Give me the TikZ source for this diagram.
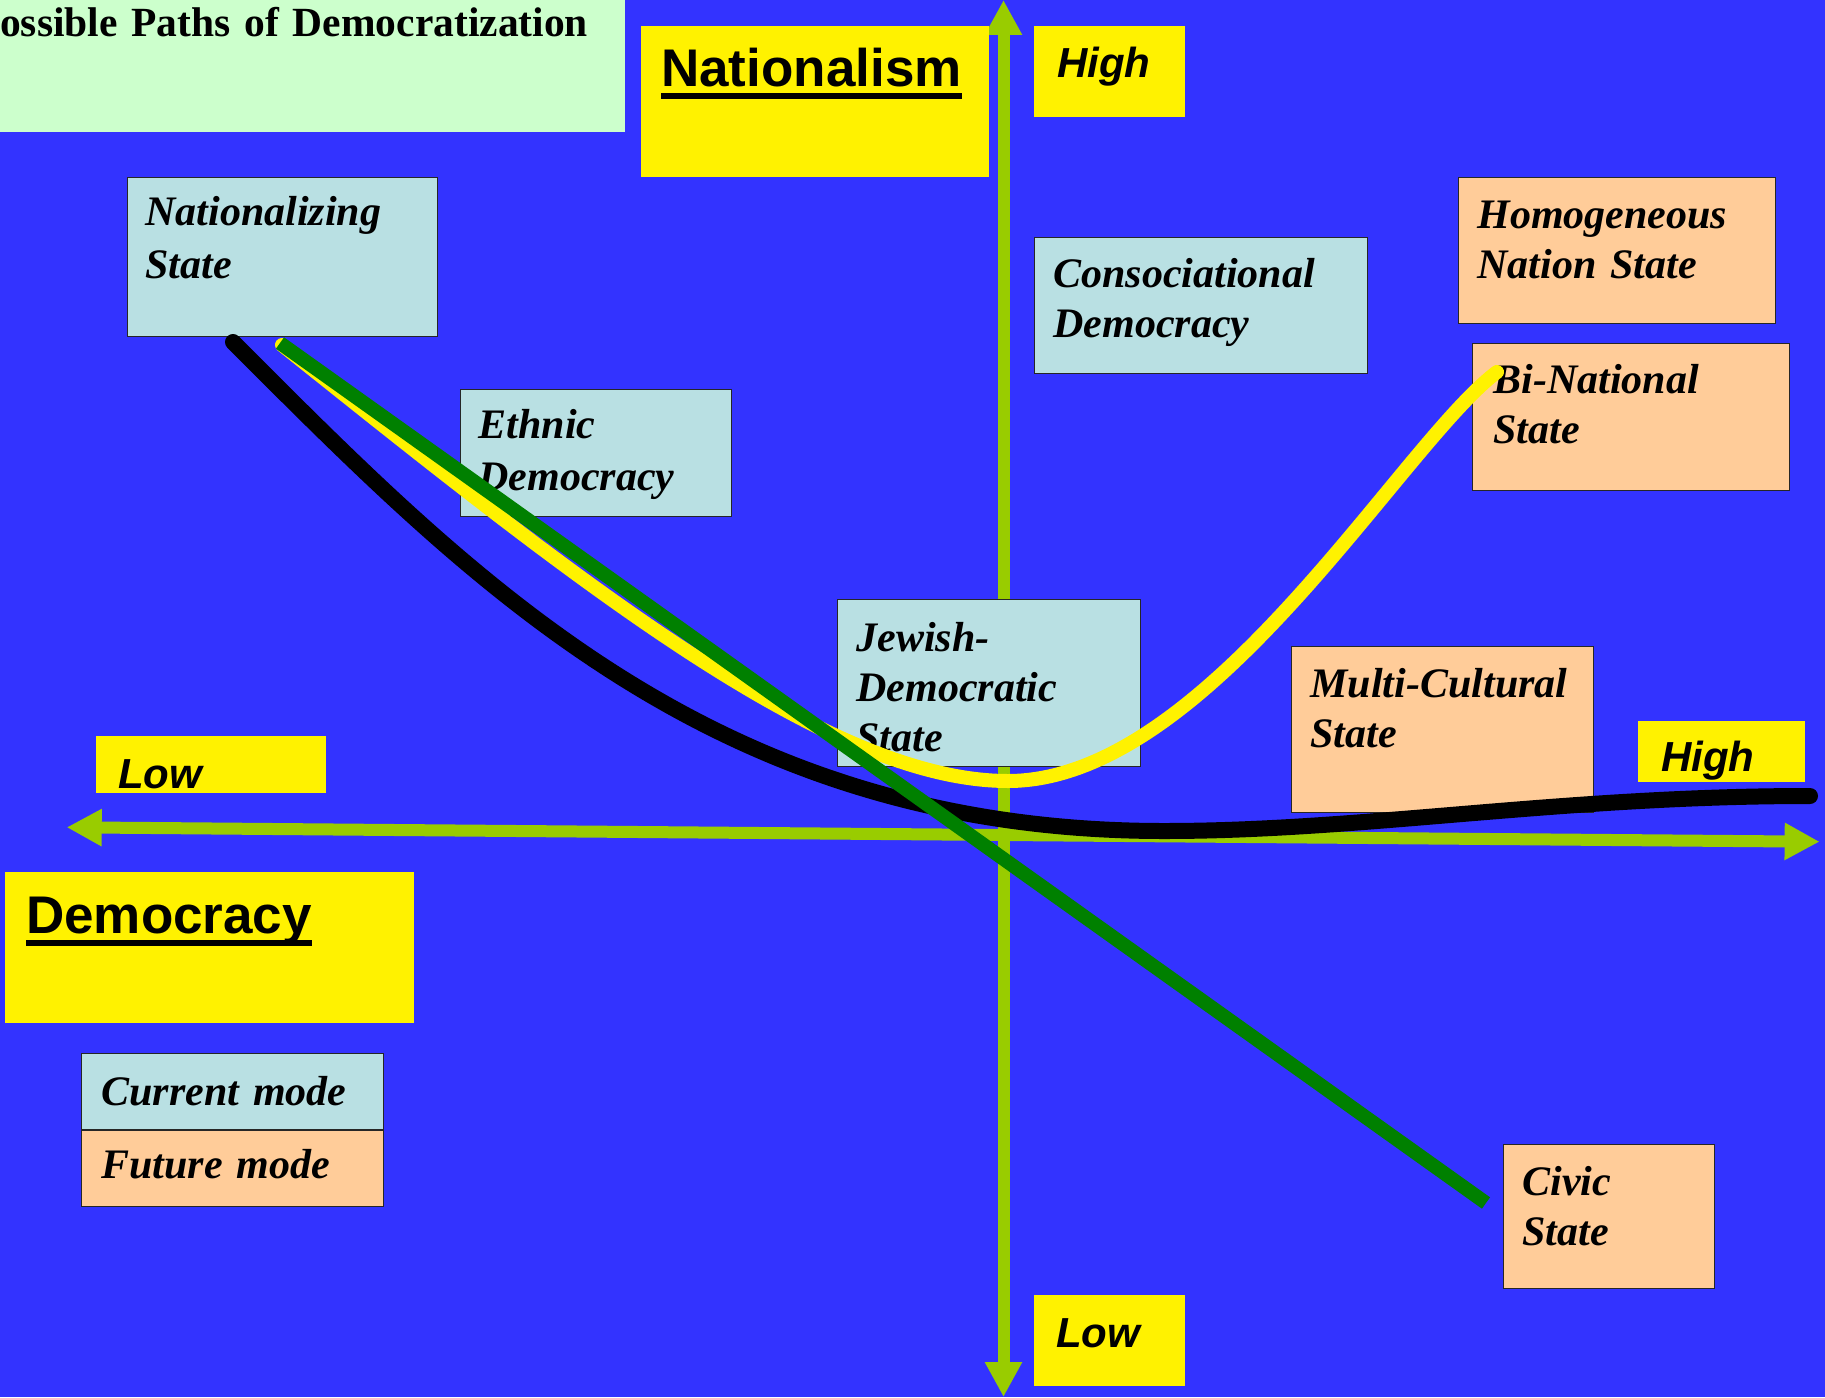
\documentclass[tikz,border=0pt]{standalone}
\usepackage{fontspec}
\setmainfont{Liberation Serif}
\setsansfont{Liberation Sans}
\usetikzlibrary{positioning}
\usetikzlibrary{arrows.meta}
\definecolor{bgblue}{HTML}{3333FF}
\definecolor{axisgreen}{HTML}{99CC00}
\definecolor{curblue}{HTML}{B9E0E3}
\definecolor{futpeach}{HTML}{FFCC99}
\definecolor{titlegreen}{HTML}{CCFFCC}
\definecolor{pathgreen}{HTML}{008000}
\newcommand{\ulhead}[1]{\setbox0\hbox{#1}\rlap{\vrule width\wd0 height -7pt depth 13pt}\box0}
\tikzset{
    boxc/.style = {rectangle, draw=black!85, line width=1.2pt, fill=curblue, anchor=north west, align=left, inner xsep=19pt, inner ysep=0pt, font=\bfseries\itshape\fontsize{42}{50}\selectfont},
    boxf/.style = {boxc, fill=futpeach},
    boxy/.style = {rectangle, fill=yellow, anchor=north west, align=left, inner xsep=22pt, inner ysep=0pt, font=\sffamily\bfseries\itshape\fontsize{42}{50}\selectfont},
    boxh/.style = {boxy, inner xsep=20pt, font=\sffamily\bfseries\fontsize{53}{60}\selectfont},
    axisg/.style = {line width=12pt, axisgreen, {Triangle[length=35pt,width=35pt]}-{Triangle[length=35pt,width=35pt]}},
    edgek/.style = {line width=16pt, black, line cap=round}, % current path
    edgey/.style = {line width=14pt, yellow, line cap=round}, % to bi-national
    edgeg/.style = {line width=14pt, pathgreen}, % to civic
}

\begin{document}
\begin{tikzpicture}[x=1pt, y=-1pt]
  \useasboundingbox (0,0) rectangle (1825,1397);
  \fill[bgblue] (0,0) rectangle (1825,1397);

  % axes
  \coordinate (ntop) at (1003.5,0);
  \coordinate (nbot) at (1003.5,1397);
  \coordinate (dlow) at (66.7,827.3);
  \coordinate (dhigh) at (1819.6,841.7);
  \draw[axisg] (nbot) -- (ntop);
  \draw[axisg] (dhigh) -- (dlow);

  % title and axis names
  \node[fill=titlegreen, anchor=north west, align=left, inner sep=0pt, text width=625pt, text height=36pt, text depth=96pt, font=\bfseries\fontsize{41.5}{50}\selectfont] (title) at (0,0) {ossible Paths of Democratization};
  \node[boxh, text width=308pt, text height=60pt, text depth=91pt] (nat) at (641,26) {\ulhead{Nationalism}};
  \node[boxh, inner xsep=21pt, text width=367pt, text height=61pt, text depth=90pt] (dem) at (5,872) {\ulhead{Democracy}};
  \node[boxy, inner xsep=23pt, text width=105pt, text height=51pt, text depth=40pt] (hightop) at (1034,26) {High};
  \node[boxy, inner xsep=22pt, text width=107pt, text height=52pt, text depth=39pt] (lowbot) at (1034,1295) {Low};
  \node[boxy, inner xsep=22pt, text width=186pt, text height=52pt, text depth=5pt] (lowleft) at (96,736) {Low};
  \node[boxy, inner xsep=23pt, text width=121pt, text height=50pt, text depth=11pt] (highright) at (1638,721) {High};

  % current modes
  \node[boxc, inner xsep=18pt, text width=274pt, text height=48pt, text depth=111pt, font=\bfseries\itshape\fontsize{42}{53}\selectfont] (nstate) at (127,177) {Nationalizing\\State};
  \node[boxc, inner xsep=18pt, text width=235pt, text height=49pt, text depth=78pt, font=\bfseries\itshape\fontsize{42}{52}\selectfont] (ethnic) at (460,389) {Ethnic\\Democracy};
  \node[boxc, text width=295pt, text height=50pt, text depth=86pt] (consoc) at (1034,237) {Consociational\\Democracy};
  \node[boxc, text width=265pt, text height=52pt, text depth=115pt] (jewish) at (837,599) {Jewish-\\Democratic\\State};

  % future modes
  \node[boxf, text width=279pt, text height=51pt, text depth=95pt] (homog) at (1458,177) {Homogeneous\\Nation State};
  \node[boxf, inner xsep=21pt, text width=275pt, text height=50pt, text depth=97pt] (binat) at (1472,343) {Bi-National\\State};
  \node[boxf, text width=264pt, text height=51pt, text depth=115pt] (multi) at (1291,646) {Multi-Cultural\\State};
  \node[boxf, text width=173pt, text height=51pt, text depth=93pt] (civic) at (1503,1144) {Civic\\State};

  % legend
  \node[boxc, inner xsep=20pt, text width=262pt, text height=52pt, text depth=24pt] (curmode) at (81,1053) {Current mode};
  \node[boxf, inner xsep=20pt, text width=262pt, text height=48pt, text depth=28pt] (futmode) at (curmode.south west) {Future mode};

  % paths
  \coordinate (kstart) at (233,342);
  \coordinate (kdip) at (1164,831);
  \coordinate (kend) at (1810,796);
  \draw[edgek] (kstart) .. controls (473,582) and (714,831) .. (kdip)
                        .. controls (1364,831) and (1560,796) .. (kend);
  \coordinate (ystart) at (282,345);
  \coordinate (ydip) at (1008,781);
  \coordinate (yend) at (1497,372);
  \draw[edgey] (ystart) .. controls (582,585) and (828,781) .. (ydip)
                        .. controls (1208,781) and (1401,444) .. (yend);
  \coordinate (gstart) at (280,343);
  \coordinate (gend) at (1486,1203);
  \draw[edgeg] (gstart) -- (gend);
\end{tikzpicture}
\end{document}
